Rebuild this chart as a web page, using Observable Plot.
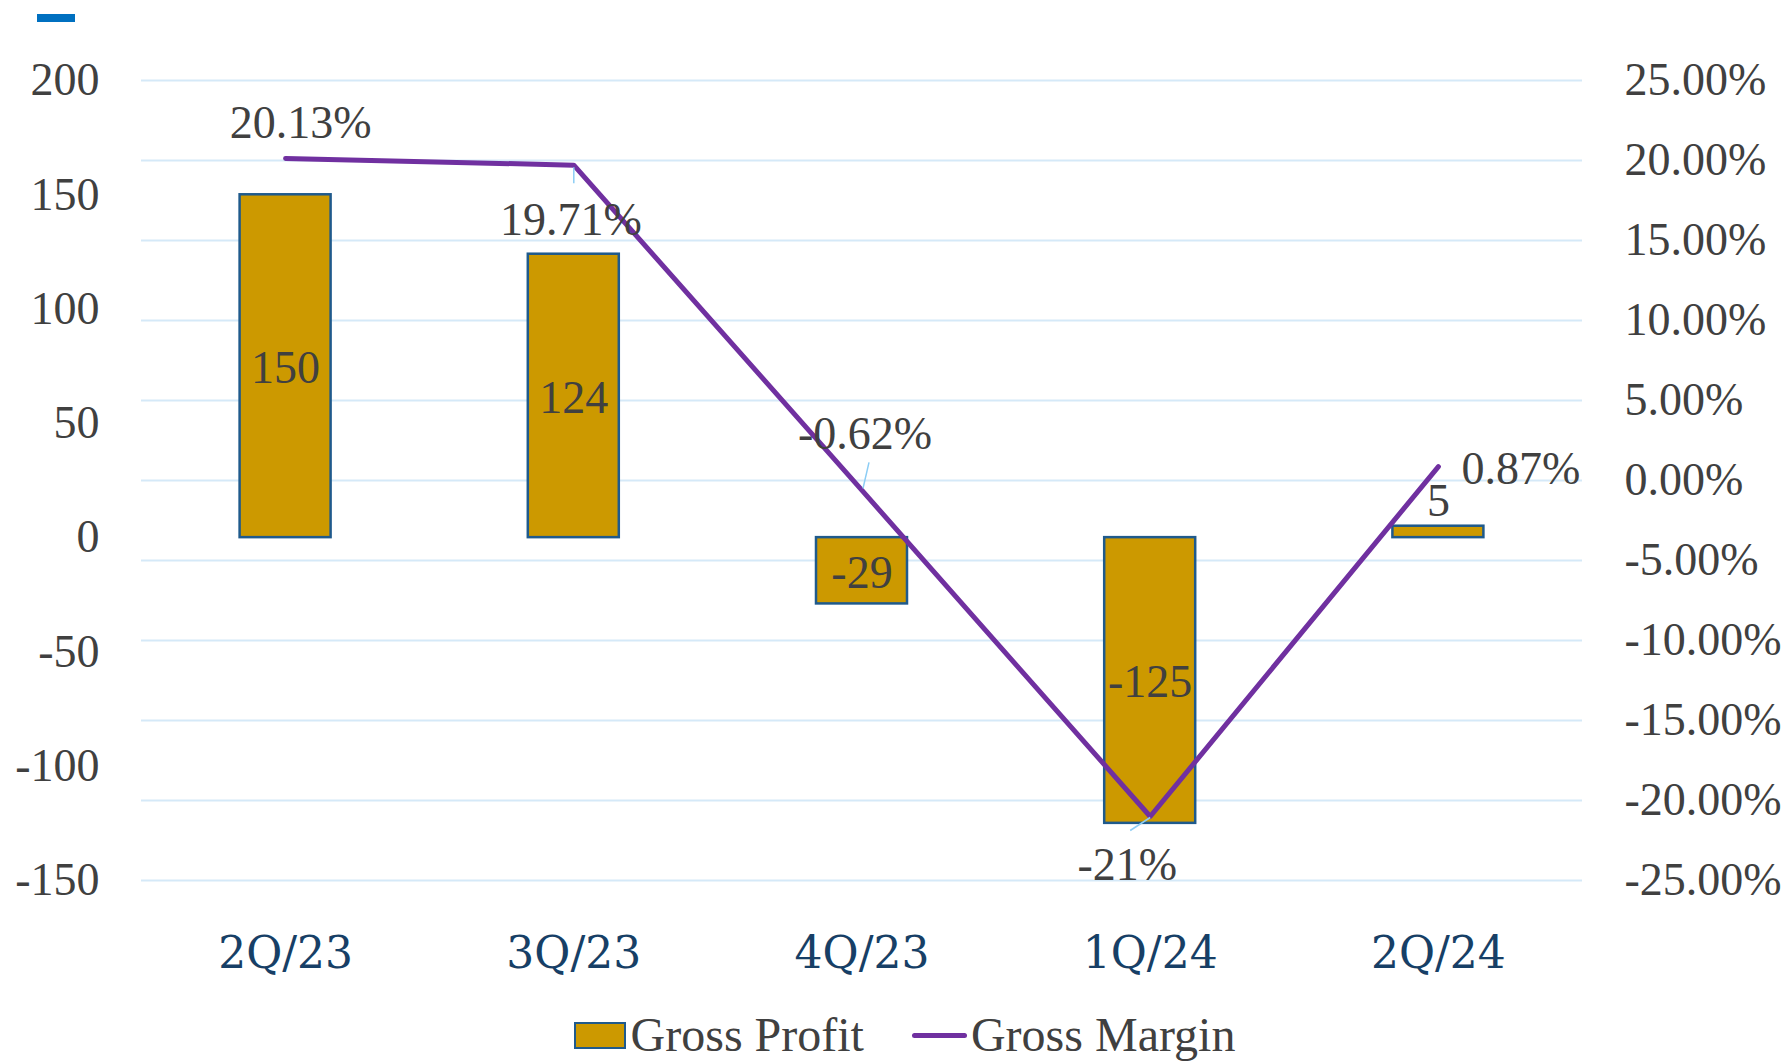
<!DOCTYPE html>
<html>
<head>
<meta charset="utf-8">
<script src="https://cdn.jsdelivr.net/npm/d3@7"></script>
<script src="https://cdn.jsdelivr.net/npm/@observablehq/plot@0.6"></script>
<style>
  body { margin: 0; background: #fff; font-family: "Liberation Serif", "Times New Roman", serif; }
  #wrap { position: relative; width: 1789px; height: 1061px; overflow: hidden; }
  #mark { position: absolute; left: 37px; top: 14px; width: 38px; height: 8px; background: #0070C0; }
  #chart { position: absolute; left: 0; top: 0; }
  #legend { position: absolute; left: 0; top: 1010px; width: 1789px; height: 50px; display: flex;
            justify-content: center; align-items: center; font-size: 48px; line-height: 50px; color: #404040;
            padding-left: 20px; box-sizing: border-box; }
  .sw-rect { display: inline-block; width: 48px; height: 23px; background: #CC9900; border: 2.5px solid #1F5A8C; margin-right: 5px; }
  .sw-line { display: inline-block; width: 55px; height: 5px; background: #7030A0; border-radius: 2.5px; margin-left: 48px; margin-right: 4px; }
</style>
</head>
<body>
<div id="wrap">
  <div id="chart"></div>
  <div id="mark"></div>
  <div id="legend"><span class="sw-rect"></span><span>Gross Profit</span><span class="sw-line"></span><span>Gross Margin</span></div>
</div>
<script>
// ---- data ----
const quarters = ["2Q/23", "3Q/23", "4Q/23", "1Q/24", "2Q/24"];
const grossProfit = [150, 124, -29, -125, 5];
const grossMargin = [20.13, 19.71, -0.62, -21, 0.87];
const marginLabels = ["20.13%", "19.71%", "-0.62%", "-21%", "0.87%"];
const profitTicks = [-150, -100, -50, 0, 50, 100, 150, 200];
const marginTicks = [-25, -20, -15, -10, -5, 0, 5, 10, 15, 20, 25];

// ---- layout / style ----
const W = 1789, H = 1000, mL = 141, mR = 207, mT = 80, mB = 120;
const leftDomain = [-150, 200], rightDomain = [-25, 25];
const toLeft = r => leftDomain[0] + (r - rightDomain[0]) * (leftDomain[1] - leftDomain[0]) / (rightDomain[1] - rightDomain[0]);
const toRight = l => rightDomain[0] + (l - leftDomain[0]) * (rightDomain[1] - rightDomain[0]) / (leftDomain[1] - leftDomain[0]);
const pxX = (W - mL - mR) / quarters.length;
const pxY = (H - mT - mB) / (leftDomain[1] - leftDomain[0]);
const barHalf = 45.5 / pxX;
const FONT = '"Liberation Serif", "Times New Roman", serif';
const XFONT = '"DejaVu Serif", "Book Antiqua", Palatino, serif';
const TXT = "#404040";

const rows = quarters.map((q, i) => ({ i, q, gp: grossProfit[i], gm: grossMargin[i], label: marginLabels[i], my: toLeft(grossMargin[i]) }));

// label placements (pixels relative to the line point)
const labelStyle = [
  { dx: 15, dy: -35, anchor: "middle" },
  { dx: -3, dy: 55, anchor: "middle" },
  { dx: 3, dy: -56, anchor: "middle" },
  { dx: -23, dy: 49, anchor: "middle" },
  { dx: 23, dy: 3, anchor: "start" }
];
const leaders = [null, [[0, 2], [0, 18]], [[1, -2], [7, -28]], [[0, 1], [-20, 14]], null];
const leaderRows = rows.filter((d, i) => leaders[i]).map(d => {
  const [a, b] = leaders[d.i];
  return { x1: d.i + a[0] / pxX, y1: d.my - a[1] / pxY, x2: d.i + b[0] / pxX, y2: d.my - b[1] / pxY };
});

const fmtPct = v => (Math.round(v * 100) / 100).toFixed(2) + "%";

const chart = Plot.plot({
  width: W, height: H,
  marginLeft: mL, marginRight: mR, marginTop: mT, marginBottom: mB,
  style: { fontFamily: FONT, fontSize: "46px", color: TXT, background: "#fff", overflow: "visible" },
  x: { domain: [-0.5, quarters.length - 0.5] },
  y: { domain: leftDomain },
  marks: [
    Plot.gridY(marginTicks.map(toLeft), { stroke: "#d5e9f8", strokeOpacity: 1, strokeWidth: 2 }),
    Plot.axisY(profitTicks, { anchor: "left", tickSize: 0, tickPadding: 42, tickFormat: d => String(d), label: null, fontSize: 46, color: TXT }),
    Plot.axisY(marginTicks.map(toLeft), { anchor: "right", tickSize: 0, tickPadding: 42, tickFormat: d => fmtPct(toRight(d)), label: null, fontSize: 46, color: TXT }),
    Plot.axisX(quarters.map((q, i) => i), { tickSize: 0, tickPadding: 56, tickFormat: i => quarters[i], label: null, fontSize: 44, fontFamily: XFONT, color: "#173F66" }),
    Plot.rect(rows, { x1: d => d.i - barHalf, x2: d => d.i + barHalf, y1: 0, y2: "gp", fill: "#CC9900", stroke: "#1F5A8C", strokeWidth: 2.5 }),
    Plot.line(rows, { x: "i", y: "my", stroke: "#7030A0", strokeWidth: 5, strokeLinecap: "round", strokeLinejoin: "round" }),
    Plot.link(leaderRows, { x1: "x1", y1: "y1", x2: "x2", y2: "y2", stroke: "#8ccdf5", strokeWidth: 1.5 }),
    Plot.text(rows.filter(d => Math.abs(d.gp) >= 20), { x: "i", y: d => d.gp / 2, dy: 2, text: d => String(d.gp), fill: TXT, fontSize: 46, fontFamily: FONT }),
    Plot.text(rows.filter(d => Math.abs(d.gp) < 20), { x: "i", y: "gp", dy: -25, text: d => String(d.gp), fill: TXT, fontSize: 46, fontFamily: FONT }),
    ...rows.map((r, i) => Plot.text([r], { x: "i", y: "my", text: "label", dx: labelStyle[i].dx, dy: labelStyle[i].dy, textAnchor: labelStyle[i].anchor, fill: TXT, fontSize: 46, fontFamily: FONT }))
  ]
});
document.getElementById("chart").appendChild(chart);
</script>
</body>
</html>
